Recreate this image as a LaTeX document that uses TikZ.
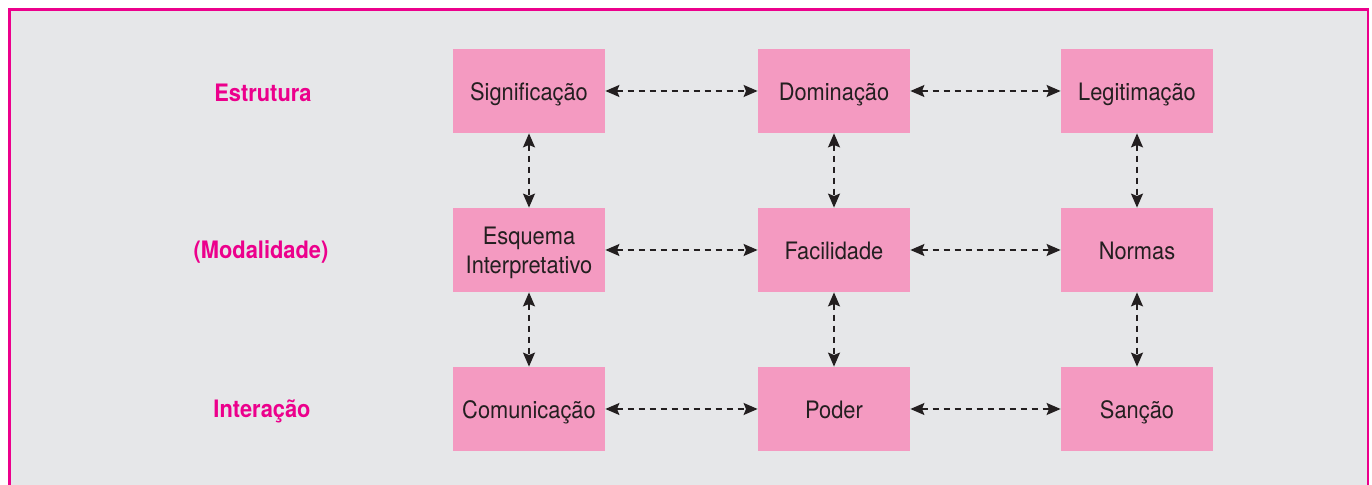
\documentclass[tikz,border=0pt]{standalone}
\usepackage{fontspec}
\setmainfont{TeX Gyre Heros}[FakeStretch=0.91]
\usetikzlibrary{arrows.meta}
\definecolor{boxpink}{HTML}{F49AC1}
\definecolor{panelgrey}{HTML}{E6E7E9}
\definecolor{framemag}{HTML}{EC008C}
\definecolor{inkdark}{HTML}{231F20}
\begin{document}
\begin{tikzpicture}
	[	x=0.5pt,y=-0.5pt,
	box/.style={rectangle,draw=none,fill=boxpink,minimum width=76pt,minimum height=42pt,
		inner sep=0pt,align=center,text=inkdark,font=\fontsize{12}{14.5}\selectfont,
		text height=10.4pt,text depth=1.2pt},
	level/.style={draw=none,fill=none,text=framemag,font=\fontsize{12}{14.5}\selectfont\bfseries},
	link/.style={arrows={Stealth[length=7pt,width=6pt,inset=1.2pt]-Stealth[length=7pt,width=6pt,inset=1.2pt]},
		line width=0.75pt,inkdark,dash pattern=on 3pt off 2.5pt}
	]
	\useasboundingbox (0,0) rectangle (1372,485);
	\clip (0,0) rectangle (1372,485);
	\draw[framemag,line width=1.4pt,fill=panelgrey] (9.5,9.5) rectangle (1368,500);

	% nivel
	\node[level] (est) at (263,93) {Estrutura};
	\node[level] (mod) at (261,252) {(Modalidade)};
	\node[level] (int) at (262,411) {Interação};

	% caixas
	\node[box] (sig) at (529,91) {Significação};
	\node[box] (dom) at (834,91) {Dominação};
	\node[box] (leg) at (1137,91) {Legitimação};
	\node[box,text height=26pt,text depth=2pt] (esq) at (529,250) {Esquema\\Interpretativo};
	\node[box] (fac) at (834,250) {Facilidade};
	\node[box] (nor) at (1137,250) {Normas};
	\node[box] (com) at (529,409) {Comunicação};
	\node[box] (pod) at (834,409) {Poder};
	\node[box] (san) at (1137,409) {Sanção};

	% ligacoes
	\draw[link] (sig) -- (dom);
	\draw[link] (dom) -- (leg);
	\draw[link] (esq) -- (fac);
	\draw[link] (fac) -- (nor);
	\draw[link] (com) -- (pod);
	\draw[link] (pod) -- (san);
	\draw[link] (sig) -- (esq);
	\draw[link] (esq) -- (com);
	\draw[link] (dom) -- (fac);
	\draw[link] (fac) -- (pod);
	\draw[link] (leg) -- (nor);
	\draw[link] (nor) -- (san);
\end{tikzpicture}
\end{document}
